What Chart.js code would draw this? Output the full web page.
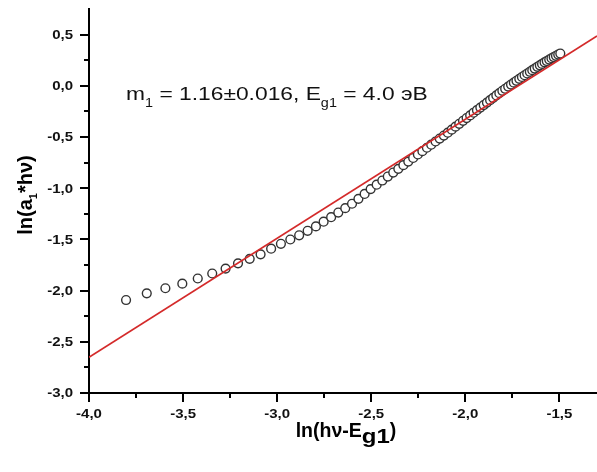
<!DOCTYPE html>
<html><head><meta charset="utf-8">
<script src="https://cdn.jsdelivr.net/npm/chart.js@4/dist/chart.umd.min.js"></script>
<style>html,body{margin:0;padding:0;background:#fff;overflow:hidden}</style>
</head><body>
<canvas id="c" width="597" height="472"></canvas>
<script>
// measured points: ln(hν - Eg1)
const xData = [-3.803,-3.693,-3.594,-3.504,-3.422,-3.345,-3.274,-3.208,-3.146,-3.088,-3.032,-2.980,-2.930,-2.883,-2.838,-2.794,-2.753,-2.713,-2.675,-2.638,-2.602,-2.568,-2.535,-2.503,-2.471,-2.441,-2.412,-2.383,-2.356,-2.329,-2.303,-2.277,-2.252,-2.228,-2.204,-2.181,-2.158,-2.136,-2.114,-2.093,-2.072,-2.052,-2.032,-2.012,-1.993,-1.974,-1.956,-1.938,-1.920,-1.902,-1.885,-1.868,-1.852,-1.835,-1.819,-1.803,-1.788,-1.772,-1.757,-1.742,-1.728,-1.713,-1.699,-1.685,-1.671,-1.657,-1.644,-1.631,-1.617,-1.604,-1.592,-1.579,-1.567,-1.554,-1.542,-1.530,-1.518,-1.506,-1.495];
// measured points: ln(a1*hν)
const yData = [-2.092,-2.027,-1.977,-1.932,-1.882,-1.833,-1.785,-1.734,-1.690,-1.646,-1.591,-1.543,-1.501,-1.460,-1.416,-1.373,-1.327,-1.283,-1.238,-1.195,-1.152,-1.104,-1.056,-1.009,-0.966,-0.925,-0.886,-0.847,-0.811,-0.775,-0.740,-0.705,-0.671,-0.638,-0.605,-0.575,-0.544,-0.515,-0.486,-0.458,-0.428,-0.399,-0.371,-0.342,-0.315,-0.289,-0.263,-0.238,-0.213,-0.188,-0.164,-0.140,-0.118,-0.094,-0.072,-0.049,-0.029,-0.008,0.012,0.031,0.049,0.068,0.086,0.103,0.120,0.137,0.153,0.168,0.185,0.200,0.214,0.229,0.242,0.256,0.269,0.281,0.293,0.305,0.315];
// linear fit line end points
const fitX = [-4.0, -1.3];
const fitY = [-2.651, 0.486];
// axes
const xTickValues = [-4.0,-3.5,-3.0,-2.5,-2.0,-1.5];
const xTickLabels = ['-4,0','-3,5','-3,0','-2,5','-2,0','-1,5'];
const xMinorValues = [-3.75,-3.25,-2.75,-2.25,-1.75];
const yTickValues = [-3.0,-2.5,-2.0,-1.5,-1.0,-0.5,0.0,0.5];
const yTickLabels = ['-3,0','-2,5','-2,0','-1,5','-1,0','-0,5','0,0','0,5'];
const yMinorValues = [-2.75,-2.25,-1.75,-1.25,-0.75,-0.25,0.25];
const xTitle = ['ln(hν-E', 'g1', ')'];
const yTitle = ['ln(a', '1', '*hν)'];
const annotation = ['m', '1', ' = 1.16±0.016, E', 'g1', ' = 4.0 эВ'];
const annotationAt = {x: -3.803, y: -0.14};

const FONT = '"Liberation Sans", Arial, sans-serif';

function drawRich(ctx, x, y, segs, opt) {
  opt = opt || {};
  let w = 0;
  segs.forEach(s => {
    ctx.font = (s.bold ? 'bold ' : '') + s.size + 'px ' + FONT;
    s.w = ctx.measureText(s.t).width * (s.sx || 1);
    w += s.w;
  });
  const sx = opt.sx || 1;
  let cx = opt.align === 'center' ? -w / 2 : (opt.align === 'right' ? -w : 0);
  ctx.save();
  ctx.translate(x, y);
  if (opt.rot) ctx.rotate(opt.rot);
  ctx.scale(sx, 1);
  ctx.fillStyle = opt.color || '#000';
  ctx.textBaseline = 'alphabetic';
  ctx.textAlign = 'left';
  segs.forEach(s => {
    ctx.font = (s.bold ? 'bold ' : '') + s.size + 'px ' + FONT;
    ctx.save();
    ctx.translate(cx, s.dy || 0);
    ctx.scale(s.sx || 1, 1);
    ctx.fillText(s.t, 0, 0);
    ctx.restore();
    cx += s.w;
  });
  ctx.restore();
}

const decor = {
  id: 'decor',
  afterDraw(chart) {
    const ctx = chart.ctx;
    const xs = chart.scales.x, ys = chart.scales.y;
    const ca = chart.chartArea;
    ctx.save();
    ctx.strokeStyle = '#000';
    ctx.lineWidth = 2;
    ctx.beginPath();
    yTickValues.forEach(v => { const p = Math.round(ys.getPixelForValue(v)); ctx.moveTo(ca.left - 9, p); ctx.lineTo(ca.left, p); });
    yMinorValues.forEach(v => { const p = Math.round(ys.getPixelForValue(v)); ctx.moveTo(ca.left - 5, p); ctx.lineTo(ca.left, p); });
    xTickValues.forEach(v => { const p = Math.round(xs.getPixelForValue(v)); ctx.moveTo(p, ca.bottom); ctx.lineTo(p, ca.bottom + 9); });
    xMinorValues.forEach(v => { const p = Math.round(xs.getPixelForValue(v)); ctx.moveTo(p, ca.bottom); ctx.lineTo(p, ca.bottom + 5); });
    ctx.stroke();
    ctx.restore();
    // tick labels
    yTickValues.forEach((v, i) => {
      const p = ys.getPixelForValue(v);
      drawRich(ctx, ca.left - 16, p + 4.3, [{t: yTickLabels[i], size: 12, bold: true}], {align: 'right', sx: 1.25, color: '#111'});
    });
    xTickValues.forEach((v, i) => {
      const p = xs.getPixelForValue(v);
      drawRich(ctx, p, ca.bottom + 24.5, [{t: xTickLabels[i], size: 12, bold: true}], {align: 'center', sx: 1.25, color: '#111'});
    });
    // axis titles
    drawRich(ctx, 346, 437, [
      {t: xTitle[0], size: 21, bold: true, sx: 0.93},
      {t: xTitle[1], size: 20, bold: true, dy: 6, sx: 1.2},
      {t: xTitle[2], size: 21, bold: true, sx: 0.93}
    ], {align: 'center', color: '#000'});
    drawRich(ctx, 32, 195, [
      {t: yTitle[0], size: 20, bold: true},
      {t: yTitle[1], size: 11, bold: true, dy: 5},
      {t: yTitle[2], size: 20, bold: true}
    ], {align: 'center', rot: -Math.PI / 2, color: '#000'});
    // annotation
    const ax = xs.getPixelForValue(annotationAt.x), ay = ys.getPixelForValue(annotationAt.y);
    drawRich(ctx, ax, ay, [
      {t: annotation[0], size: 19},
      {t: annotation[1], size: 12, dy: 7},
      {t: annotation[2], size: 19},
      {t: annotation[3], size: 12, dy: 7},
      {t: annotation[4], size: 19}
    ], {sx: 1.2, color: '#111'});
  }
};

function fixX(s) { s.height = 79; s.paddingLeft = 0; s.paddingRight = 0; }
function fixY(s) { s.width = 89; s.paddingTop = 0; s.paddingBottom = 0; }

new Chart(document.getElementById('c'), {
  type: 'scatter',
  data: {
    datasets: [
      {
        type: 'line',
        data: fitX.map((x, i) => ({x, y: fitY[i]})),
        borderColor: '#d42a2a',
        borderWidth: 1.6,
        pointRadius: 0,
        fill: false,
        order: 0
      },
      {
        data: xData.map((x, i) => ({x, y: yData[i]})),
        pointStyle: 'circle',
        pointRadius: 4.4,
        pointBorderWidth: 1.4,
        pointBorderColor: '#333',
        pointBackgroundColor: '#fff',
        borderColor: '#333',
        backgroundColor: '#fff',
        order: 1
      }
    ]
  },
  options: {
    responsive: false,
    devicePixelRatio: 1,
    animation: false,
    layout: {autoPadding: false, padding: {top: 9, left: 0, right: 0, bottom: 0}},
    plugins: {legend: {display: false}, tooltip: {enabled: false}},
    scales: {
      x: {
        type: 'linear', min: -4.0, max: -1.3,
        grid: {display: false, drawTicks: false},
        border: {display: true, color: '#000', width: 2},
        ticks: {display: false},
        afterFit: fixX
      },
      y: {
        type: 'linear', min: -3.0, max: 0.75,
        grid: {display: false, drawTicks: false},
        border: {display: true, color: '#000', width: 2},
        ticks: {display: false},
        afterFit: fixY
      }
    }
  },
  plugins: [decor]
});
</script>
</body></html>
